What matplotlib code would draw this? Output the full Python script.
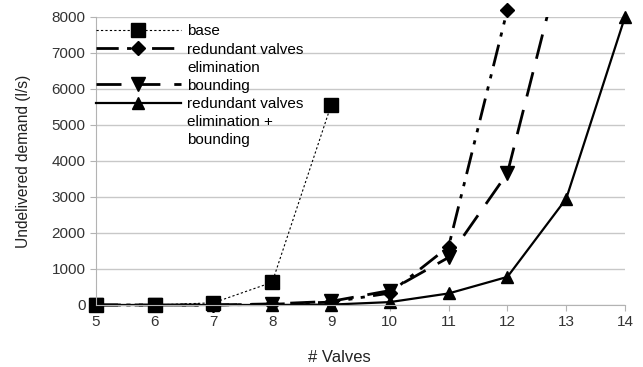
import matplotlib
matplotlib.use("Agg")
import matplotlib.pyplot as plt
from matplotlib.lines import Line2D
from matplotlib.transforms import Bbox, TransformedBbox

# data
valves = [5, 6, 7, 8, 9, 10, 11, 12, 13, 14]
base = [0, 0, 60, 630, 5540]
redundant = [0, 0, 0, 20, 80, 330, 1620, 8200]
bounding = [0, 0, 0, 30, 100, 400, 1320, 3660, 10100]
combined = [0, 0, 0, 0, 10, 80, 320, 780, 2950, 8000]

labels = ["base", "redundant valves\nelimination", "bounding",
          "redundant valves\nelimination +\nbounding"]

plt.rcParams['font.family'] = ['Liberation Sans', 'DejaVu Sans']

fig = plt.figure(figsize=(6.43, 3.67), dpi=100)
ax = fig.add_axes([0.149, 0.169, 0.823, 0.785])

l1, = ax.plot(valves[:len(base)], base, color="black", linestyle=(0, (2, 2)), linewidth=0.8,
              marker="s", markersize=10, clip_on=False)
l2, = ax.plot(valves[:len(redundant)], redundant, color="black",
              linestyle=(0, (8, 3, 1.5, 3, 1.5, 3)), linewidth=2, marker="D", markersize=7,
              clip_on=False)
l3, = ax.plot(valves[:len(bounding)], bounding, color="black", linestyle=(0, (9, 5)),
              linewidth=2, marker="v", markersize=10)
# clip only at the top so the last point runs off the chart, markers at 0 stay whole
l3.set_clip_box(TransformedBbox(Bbox([[-0.05, -0.1], [1.05, 1.0]]), ax.transAxes))
l4, = ax.plot(valves[:len(combined)], combined, color="black", linestyle="-", linewidth=1.6,
              marker="^", markersize=9, clip_on=False)

ax.set_xlim(5, 14)
ax.set_ylim(0, 8000)
ax.set_xticks(valves)
ax.set_yticks(range(0, 8001, 1000))
ax.tick_params(labelsize=11, colors="#333333", length=4, color="#b3b3b3")
ax.grid(axis="y", color="#c8c8c8", linewidth=1)
ax.set_axisbelow(True)
for side in ["top", "right"]:
    ax.spines[side].set_visible(False)
for side in ["left", "bottom"]:
    ax.spines[side].set_color("#b3b3b3")

ax.set_xlabel("# Valves", fontsize=12, color="#222222")
ax.xaxis.set_label_coords(0.461, -0.155)
ax.set_ylabel("Undelivered demand (l/s)", fontsize=11.2, color="#222222")
ax.yaxis.set_label_coords(-0.123, 0.5)

# legend: handle sits on the first line of each label, extra lines get a blank handle
blank = Line2D([], [], color="none")
handles, texts = [], []
for line, lab in zip([l1, l2, l3, l4], labels):
    parts = lab.split("\n")
    handles.append(line)
    texts.append(parts[0])
    for p in parts[1:]:
        handles.append(blank)
        texts.append(p)

ax.legend(handles, texts, loc="upper left", bbox_to_anchor=(-0.012, 0.995), frameon=False,
          fontsize=11, handlelength=5.6, handletextpad=0.4, labelspacing=0.27, borderaxespad=0)

fig.savefig("out.png", dpi=100)
